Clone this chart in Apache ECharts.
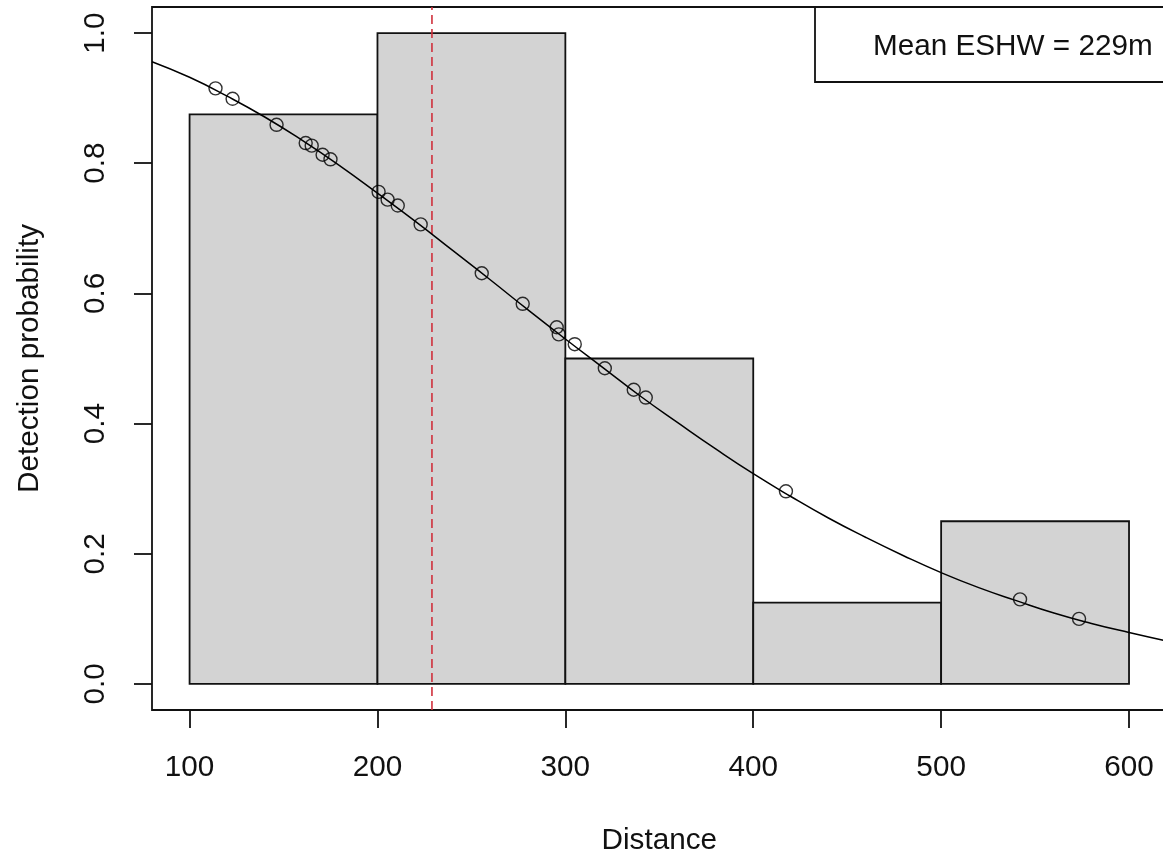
<!DOCTYPE html>
<html>
<head>
<meta charset="utf-8">
<script src="https://cdn.jsdelivr.net/npm/echarts@6/dist/echarts.min.js"></script>
<style>
html,body{margin:0;padding:0;background:#fff;overflow:hidden;width:1163px;height:862px;}
#chart{width:1170px;height:862px;}
</style>
</head>
<body>
<div id="chart"></div>
<script>
// Histogram bins (distance edges) and heights
const binStart = [100, 200, 300, 400, 500];
const binEnd   = [200, 300, 400, 500, 600];
const binHeight = [0.875, 1.0, 0.5, 0.125, 0.25];

// Fitted detection curve
const curveX = [80,100,120,140,160,180,200,220,240,260,280,300,320,340,360,380,400,420,440,460,480,500,520,540,560,580,600,620];
const curveY = [0.956,0.932,0.903,0.871,0.835,0.796,0.754,0.711,0.666,0.621,0.575,0.530,0.486,0.442,0.401,0.361,0.323,0.288,0.255,0.225,0.197,0.171,0.148,0.128,0.109,0.093,0.079,0.066];

// Observed detections
const pointX = [113.8,122.9,146.3,161.8,165.0,170.8,175.0,200.6,205.4,210.8,223.0,255.5,277.3,295.4,296.5,305.0,321.0,336.4,342.8,417.4,542.0,573.4];
const pointY = [0.915,0.899,0.859,0.831,0.827,0.813,0.806,0.756,0.744,0.735,0.706,0.631,0.584,0.548,0.537,0.522,0.485,0.452,0.440,0.296,0.130,0.100];

// Mean ESHW line
const meanESHW = 229;
const legendText = 'Mean ESHW = 229m';

// Axis ticks
const xTicks = [100, 200, 300, 400, 500, 600];
const yTicks = [0, 0.2, 0.4, 0.6, 0.8, 1.0];
const yTickLabels = ['0.0', '0.2', '0.4', '0.6', '0.8', '1.0'];

const FONT = '"Liberation Sans", Arial, sans-serif';
const FS = 29.7;
const X_MIN = 80, X_MAX = 620, Y_MIN = -0.04, Y_MAX = 1.04;

const bins = binStart.map((s, i) => [s, binEnd[i], binHeight[i]]);
const curve = curveX.map((x, i) => [x, curveY[i]]);
const points = pointX.map((x, i) => [x, pointY[i]]);

const chart = echarts.init(document.getElementById('chart'), null, {renderer: 'canvas'});
chart.setOption({
  animation: false,
  backgroundColor: '#fff',
  grid: {
    left: 152, top: 7, right: 3.4, height: 703,
    show: true, borderColor: '#111', borderWidth: 1.8, backgroundColor: 'transparent'
  },
  xAxis: {
    type: 'value', min: X_MIN, max: X_MAX,
    name: 'Distance', nameLocation: 'middle', nameGap: 116,
    nameTextStyle: {fontFamily: FONT, fontSize: FS, color: '#111', lineHeight: 30},
    axisLine: {show: false, onZero: false},
    splitLine: {show: false},
    axisTick: {show: true, customValues: xTicks, length: 18, lineStyle: {color: '#111', width: 1.8}},
    axisLabel: {customValues: xTicks, margin: 43, fontFamily: FONT, fontSize: FS, color: '#111', lineHeight: 30}
  },
  yAxis: {
    type: 'value', min: Y_MIN, max: Y_MAX,
    name: 'Detection probability', nameLocation: 'middle', nameGap: 107, nameRotate: 90,
    nameTextStyle: {fontFamily: FONT, fontSize: FS, color: '#111', lineHeight: 30},
    axisLine: {show: false, onZero: false},
    splitLine: {show: false},
    axisTick: {show: true, customValues: yTicks, length: 18, lineStyle: {color: '#111', width: 1.8}},
    axisLabel: {
      customValues: yTicks, rotate: 90, margin: 41, fontFamily: FONT, fontSize: FS, color: '#111', lineHeight: 30,
      formatter: function (v) {
        const i = yTicks.findIndex(t => Math.abs(t - v) < 1e-9);
        return i >= 0 ? yTickLabels[i] : '';
      }
    }
  },
  series: [
    {
      type: 'custom', z: 1,
      data: bins,
      renderItem: function (params, api) {
        const p0 = api.coord([api.value(0), 0]);
        const p1 = api.coord([api.value(1), api.value(2)]);
        return {
          type: 'rect',
          shape: {x: p0[0], y: p1[1], width: p1[0] - p0[0], height: p0[1] - p1[1]},
          style: {fill: '#d3d3d3', stroke: '#111', lineWidth: 1.8}
        };
      }
    },
    {
      type: 'line', z: 3, data: curve, smooth: true, showSymbol: false, symbol: 'none',
      clip: true,
      lineStyle: {color: '#000', width: 1.5}
    },
    {
      type: 'line', z: 2, data: [[meanESHW, Y_MIN], [meanESHW, Y_MAX]], showSymbol: false, symbol: 'none',
      lineStyle: {color: '#d0303c', width: 1.6, type: [9, 5]}
    },
    {
      type: 'scatter', z: 4, data: points, symbol: 'circle', symbolSize: 13,
      itemStyle: {color: 'rgba(0,0,0,0)', borderColor: '#000', borderWidth: 1.4}
    }
  ],
  graphic: [
    {
      type: 'rect', z: 10,
      shape: {x: 815, y: 7, width: 360, height: 75},
      style: {fill: '#fff', stroke: '#111', lineWidth: 1.8}
    },
    {
      type: 'text', z: 11, x: 873, y: 47,
      style: {text: legendText, font: FS + 'px "Liberation Sans", Arial, sans-serif', fill: '#111', textAlign: 'left', textVerticalAlign: 'middle'}
    }
  ]
});
</script>
</body>
</html>
